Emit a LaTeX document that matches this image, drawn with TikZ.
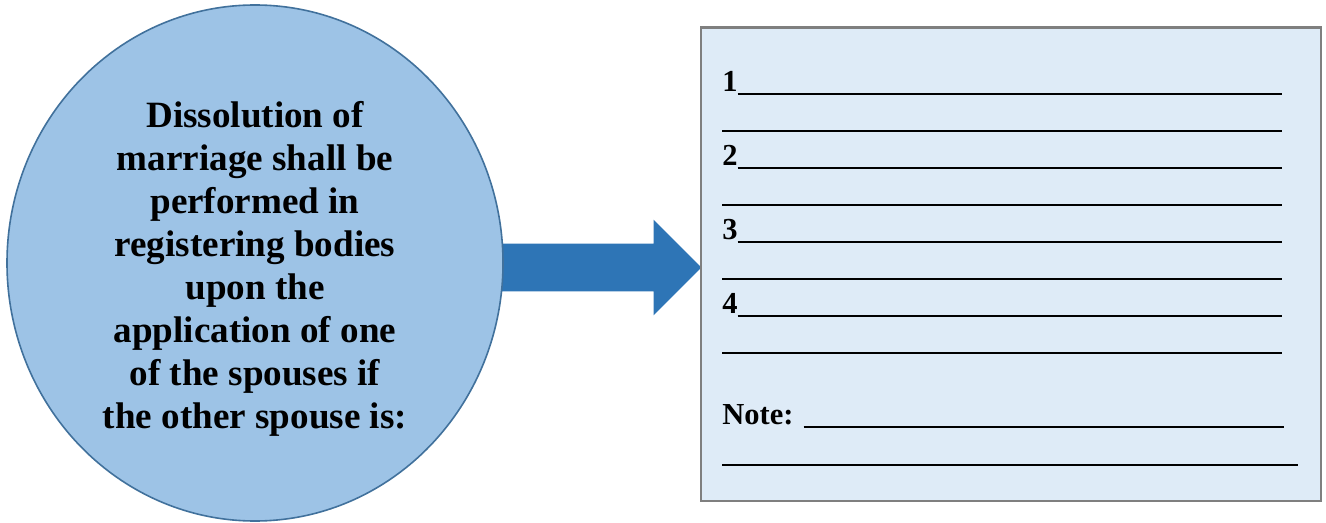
\documentclass[tikz,border=0pt]{standalone}
\usepackage{fontspec}
\setmainfont{Liberation Serif}
\usetikzlibrary{shapes.geometric, shapes.arrows}

\definecolor{bubblefill}{HTML}{9DC3E6}
\definecolor{bubbleline}{HTML}{41719C}
\definecolor{arrowblue}{HTML}{2E75B6}
\definecolor{sheetfill}{HTML}{DEEBF7}
\definecolor{sheetline}{HTML}{7F7F7F}

% a line to write on, drawn where an underscore sits
\newcommand{\fillrule}{\leavevmode\leaders\hrule height -0.05em depth 0.12em\hfill\kern0pt}

\begin{document}
\begin{tikzpicture}[x=0.5pt, y=-0.5pt,
        bubble/.style={
            % The shape:
            ellipse,
            % The size:
            minimum width=248pt,
            minimum height=258pt,
            inner sep=0pt,
            % The border
            line width=0.8pt,
            draw=bubbleline,
            % The filling
            fill=bubblefill
        },
        question/.style={
            align=center,
            inner sep=0pt,
            % Font
            font=\fontsize{18.55}{21.45}\selectfont\bfseries
        },
        bigarrow/.style={
            % The shape:
            single arrow,
            single arrow head extend=12pt,
            % The size:
            minimum height=101pt,
            minimum width=47.5pt,
            inner xsep=0pt,
            inner ysep=11.75pt,
            % The filling
            fill=arrowblue
        },
        sheet/.style={
            % The shape:
            rectangle,
            % The size:
            minimum width=310pt,
            minimum height=236.5pt,
            % The border
            line width=1.25pt,
            draw=sheetline,
            % The filling
            fill=sheetfill
        },
        blank/.style={
            anchor=base west,
            inner sep=0pt,
            align=left,
            % Font
            font=\fontsize{15.25}{18}\selectfont\bfseries
        }]

        \useasboundingbox (0,0) rectangle (1326,523);

        \node [bigarrow, anchor=tip] (push) at (702,267.5) {};
        \node [bubble] (circ) at (255,263) {};
        \node [question] (rule) at (255,269) {Dissolution of\\marriage shall be\\performed in\\registering bodies\\upon the\\application of one\\of the spouses if\\the other spouse is:};

        \node [sheet] (sheet) at (1011,264.25) {};

        \foreach \y/\lbl/\w [count=\i] in {91.5/1/280, 128.5//280, 165.5/2/280, 202.5//280, 239.5/3/280, 276.5//280, 313.5/4/280, 350.5//280, 424/Note:~/281, 462.5//288}
        {
            \node [blank, text width=\w pt] (line\i) at (722,\y) {\lbl\fillrule};
        }

    \end{tikzpicture}
\end{document}
